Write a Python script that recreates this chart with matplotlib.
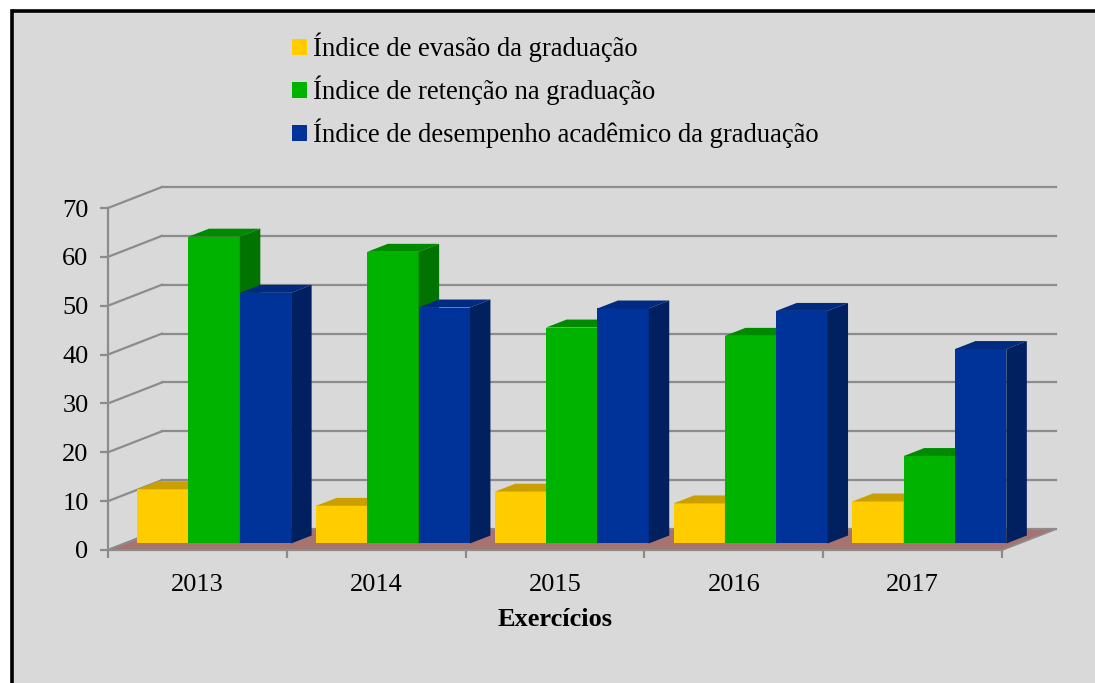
import numpy as np
import matplotlib.pyplot as plt
from matplotlib.patches import Polygon, Rectangle
from matplotlib.lines import Line2D

plt.rcParams['font.family'] = ['Liberation Serif', 'DejaVu Serif']

# ---------------------------------------------------------------------------
# Data
# ---------------------------------------------------------------------------
years = ['2013', '2014', '2015', '2016', '2017']
evasao = [11.1, 7.7, 10.6, 8.2, 8.6]
retencao = [62.8, 59.7, 44.2, 42.5, 17.9]
desempenho = [51.3, 48.3, 48.1, 47.6, 39.8]

labels = ['Índice de evasão da graduação',
          'Índice de retenção na graduação',
          'Índice de desempenho acadêmico da graduação']
front_colors = ['#FFCC00', '#00B300', '#003399']
top_colors = ['#C9A000', '#008A00', '#002B80']
side_colors = ['#B08C00', '#007300', '#002060']

GRID = '#8C8C8C'
FLOOR = '#A67371'
BG = '#D9D9D9'

# ---------------------------------------------------------------------------
# Figure / axes (front plane of the fake 3D box)
# ---------------------------------------------------------------------------
W, H = 1095, 683
fig = plt.figure(figsize=(W / 100, H / 100), dpi=100)
fig.patch.set_facecolor('white')
fig.patches.append(Rectangle((12 / W, 0), 1 - 12 / W, (H - 11) / H,
                             transform=fig.transFigure, facecolor=BG,
                             edgecolor='none', zorder=-1))
# black frame, only left and top edges are inside the picture
fig.lines.append(Line2D([12 / W, 12 / W], [0, (H - 11) / H], color='black',
                        lw=2.6, transform=fig.transFigure, zorder=-0.5))
fig.lines.append(Line2D([12 / W, 1], [(H - 11) / H, (H - 11) / H],
                        color='black', lw=2.6, solid_capstyle='butt',
                        transform=fig.transFigure, zorder=-0.5))

ax_px = (108, 133, 894, 342)   # left, bottom, width, height in pixels
ax = fig.add_axes([ax_px[0] / W, ax_px[1] / H, ax_px[2] / W, ax_px[3] / H])
ax.patch.set_visible(False)
ax.set_xlim(-0.5, 4.5)
ax.set_ylim(0, 70)

# depth vector of the box (pixels -> data units)
ddx = 54 / (ax_px[2] / 5)
ddy = 21 / (ax_px[3] / 70)
f1, f2 = 0.31, 0.69          # front / back of bars as fraction of depth
w = 0.287

# back wall + side wall grid
yt = np.arange(0, 80, 10)
for v in yt:
    ax.plot([-0.5 + ddx, 4.5 + ddx], [v + ddy, v + ddy], color=GRID, lw=1.6,
            clip_on=False, zorder=1)
    ax.plot([-0.5, -0.5 + ddx], [v, v + ddy], color=GRID, lw=1.6,
            clip_on=False, zorder=1)

# floor
ax.add_patch(Polygon([(-0.5, 0), (4.5, 0), (4.5 + ddx, ddy), (-0.5 + ddx, ddy)],
                     closed=True, facecolor=FLOOR, edgecolor=GRID, lw=1.4,
                     clip_on=False, zorder=1.5))

# bars
x = np.arange(len(years))
sdx, sdy = (f2 - f1) * ddx, (f2 - f1) * ddy
bars = []
for k, vals in enumerate([evasao, retencao, desempenho]):
    xf = x + f1 * ddx + (k - 1) * w
    yb = f1 * ddy
    b = ax.bar(xf, vals, w, bottom=yb, color=front_colors[k], linewidth=0,
               zorder=3 + k, clip_on=False)
    bars.append(b)
    for xc, v in zip(xf, vals):
        xl, xr, ytop = xc - w / 2, xc + w / 2, yb + v
        ax.add_patch(Polygon([(xl, ytop), (xr, ytop), (xr + sdx, ytop + sdy),
                              (xl + sdx, ytop + sdy)], closed=True,
                             facecolor=top_colors[k], lw=0, zorder=3 + k,
                             clip_on=False))
        ax.add_patch(Polygon([(xr, yb), (xr + sdx, yb + sdy),
                              (xr + sdx, ytop + sdy), (xr, ytop)], closed=True,
                             facecolor=side_colors[k], lw=0, zorder=3 + k,
                             clip_on=False))

# axes styling
for s in ('top', 'right'):
    ax.spines[s].set_visible(False)
for s in ('left', 'bottom'):
    ax.spines[s].set_color(GRID)
    ax.spines[s].set_linewidth(1.6)

ax.set_yticks(yt)
ax.tick_params(axis='y', length=6, width=1.6, color=GRID, labelsize=19, pad=8)
ax.set_xticks(np.arange(-0.5, 5, 1))
ax.set_xticklabels([])
ax.set_xticks(x, minor=True)
ax.set_xticklabels(years, minor=True)
ax.tick_params(axis='x', which='major', length=6, width=1.6, color=GRID)
ax.tick_params(axis='x', which='minor', length=0, labelsize=19, pad=17)
ax.set_xlabel('Exercícios', fontsize=19, fontweight='bold', labelpad=9)

ax.legend(bars, labels, loc='upper left', frameon=False, fontsize=19.2,
          bbox_to_anchor=(292 / W, 1 - 33 / H), bbox_transform=fig.transFigure,
          handlelength=0.55, handleheight=0.55, handletextpad=0.25,
          labelspacing=0.5, borderpad=0, borderaxespad=0)

fig.savefig('out.png', dpi=100, facecolor=fig.get_facecolor())
